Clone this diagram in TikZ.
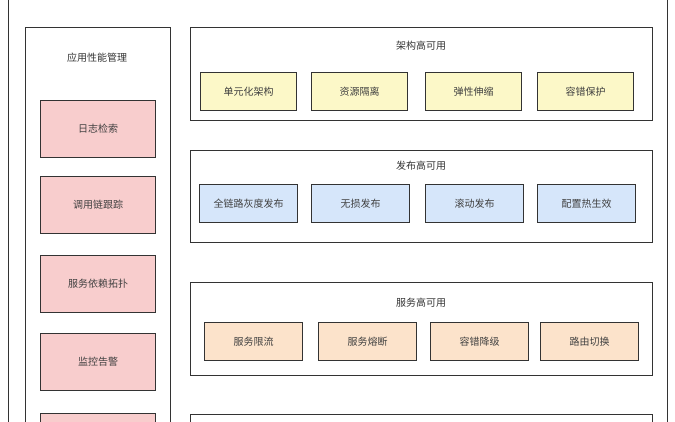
\documentclass[tikz,border=0pt]{standalone}
\usepackage{fontspec}
\setmainfont{Noto Sans CJK SC}
\definecolor{cblue}{HTML}{D6E6FA}
\definecolor{cyel}{HTML}{FCF8C8}
\definecolor{corg}{HTML}{FCE3CB}
\definecolor{cpink}{HTML}{F8CDCD}
\begin{document}
\begin{tikzpicture}[x=1pt,y=-1pt,
 frame/.style={draw=black!80,line width=0.9pt,fill=white},
 item/.style={draw=black!80,line width=1pt,minimum width=96pt,minimum height=38pt,font=\fontsize{10}{11}\selectfont,text=black!75,anchor=north west},
 pinkitem/.style={item,fill=cpink,minimum width=115pt,minimum height=57pt},
 ttl/.style={font=\fontsize{10}{11}\selectfont,text=black!80}]
\useasboundingbox (0,0) rectangle (675,421);
\clip (0,0) rectangle (675,421);
\draw[frame] (8,-10) rectangle (667,440);
\draw[frame] (25,27) rectangle (170,440);
\node[ttl] (t0) at (97,58) {应用性能管理};
\foreach \y/\t [count=\i] in {100/日志检索,176/调用链跟踪,255/服务依赖拓扑,333/监控告警,413/{}}
  \node[pinkitem] (p\i) at (40,\y) {\t};
\draw[frame] (190,27) rectangle (652,120);
\node[ttl] (t1) at (421,46) {架构高可用};
\foreach \x/\t [count=\i] in {200/单元化架构,311/资源隔离,425/弹性伸缩,537/容错保护}
  \node[item,fill=cyel] (a\i) at (\x,72) {\t};
\draw[frame] (190,150) rectangle (652,242);
\node[ttl] (t2) at (421,166) {发布高可用};
\foreach \x/\t [count=\i] in {199/全链路灰度发布,311/无损发布,425/滚动发布,537/配置热生效}
  \node[item,fill=cblue,minimum width=98pt] (b\i) at (\x,184) {\t};
\draw[frame] (190,282) rectangle (652,375);
\node[ttl] (t3) at (421,303) {服务高可用};
\foreach \x/\t [count=\i] in {204/服务限流,318/服务熔断,430/容错降级,540/路由切换}
  \node[item,fill=corg,minimum width=98pt] (c\i) at (\x,322) {\t};
\draw[frame] (190,414) rectangle (652,440);
\end{tikzpicture}
\end{document}
